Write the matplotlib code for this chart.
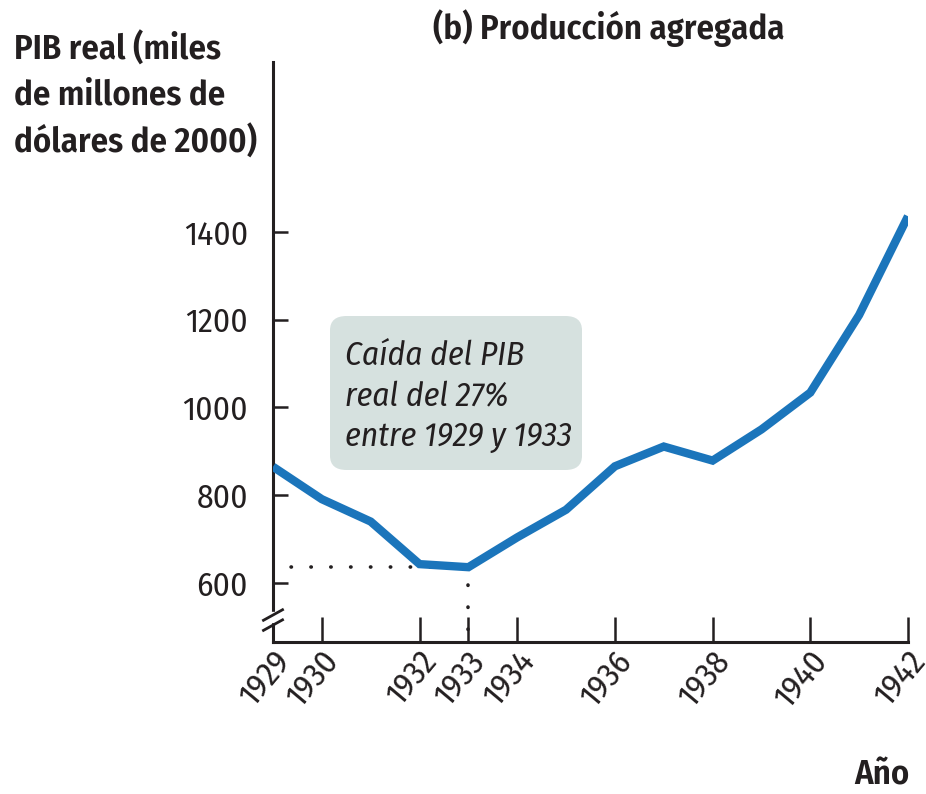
import numpy as np
import matplotlib as mpl
mpl.use("Agg")
import matplotlib.pyplot as plt
from matplotlib.patches import FancyBboxPatch, Rectangle
import matplotlib.transforms as mtrans

plt.rcParams["font.family"] = ["Fira Sans Condensed", "DejaVu Sans"]

# data: real GDP (billions of 2000 dollars)
years = [1929, 1930, 1931, 1932, 1933, 1934, 1935, 1936, 1937, 1938, 1939, 1940, 1941, 1942]
gdp = [865, 791, 740, 643, 636, 704, 767, 866, 911, 879, 950, 1034, 1211, 1436]

xticks = [1929, 1930, 1932, 1933, 1934, 1936, 1938, 1940, 1942]
xticklabels = [str(y) for y in xticks]
yticks = [600, 800, 1000, 1200, 1400]

title = "(b) Producción agregada"
ylabel = "PIB real (miles\nde millones de\ndólares de 2000)"
xlabel = "Año"
note = "Caída del PIB\nreal del 27%\nentre 1929 y 1933"
low_year, low_val = 1933, 636

W, H = 926, 794
fig = plt.figure(figsize=(W / 100, H / 100), dpi=100)
ax = fig.add_axes([273 / W, 1 - 642 / H, (908 - 273) / W, (642 - 62) / H])

line_col = "#1b75bb"
ink = "#231f20"

ax.plot(years, gdp, color=line_col, lw=6, solid_joinstyle="miter", solid_capstyle="butt", zorder=3)

ax.set_xlim(1929, 1942)
ax.set_ylim(465.5, 1787.5)

# dotted guides to the 1933 low
ax.plot([1929, low_year - 0.2], [low_val, low_val], ls=(0.5, (0.1, 5.4)), lw=2.6,
        dash_capstyle="round", color=ink, zorder=2)
ax.plot([low_year, low_year], [low_val - 40, 465.5], ls=(0, (0.1, 6)), lw=2.6,
        dash_capstyle="round", color=ink, zorder=2)

for s in ["top", "right"]:
    ax.spines[s].set_visible(False)
for s in ["left", "bottom"]:
    ax.spines[s].set_linewidth(2.2)
    ax.spines[s].set_color(ink)

ax.set_xticks(xticks)
ax.set_xticklabels(xticklabels, rotation=50, ha="right", va="center",
                   rotation_mode="anchor", fontsize=24, color=ink)
ax.tick_params(axis="x", direction="in", length=18, width=1.8, color=ink, pad=10)
ax.set_yticks(yticks)
ax.set_yticklabels([str(v) for v in yticks], fontsize=24, color=ink)
ax.tick_params(axis="y", direction="in", length=11, width=1.8, color=ink, pad=18)

off = mtrans.ScaledTranslation(11 / 100, 0, fig.dpi_scale_trans)
for lab in ax.get_xticklabels():
    lab.set_transform(lab.get_transform() + off)

# axis break on y
tb = ax.get_yaxis_transform()
ax.add_patch(Rectangle((-0.01, 510), 0.02, 25, transform=tb, color="white",
                       clip_on=False, zorder=5))
for yb in (527, 504):
    ax.plot([-0.015, 0.015], [yb - 12, yb + 12], transform=tb, color=ink,
            lw=2, clip_on=False, zorder=6)

# annotation box
box = FancyBboxPatch((330 / W, 1 - 470 / H), (582 - 330) / W, (470 - 316) / H,
                     boxstyle="round,pad=0,rounding_size=0.018",
                     transform=fig.transFigure, facecolor="#d6e1df",
                     edgecolor="none", zorder=1)
fig.patches.append(box)
fig.text(345 / W, 1 - 396 / H, note, fontsize=24, style="italic", color=ink,
         ha="left", va="center", linespacing=1.33)

fig.text(609 / W, 1 - 28 / H, title, fontsize=25, fontweight="semibold", color=ink,
         ha="center", va="center")
fig.text(14 / W, 1 - 96 / H, ylabel, fontsize=25, fontweight="semibold", color=ink,
         ha="left", va="center", linespacing=1.45)
fig.text(910 / W, 1 - 775 / H, xlabel, fontsize=25, fontweight="semibold", color=ink,
         ha="right", va="center")

fig.savefig("out.png", dpi=100, facecolor="white")
